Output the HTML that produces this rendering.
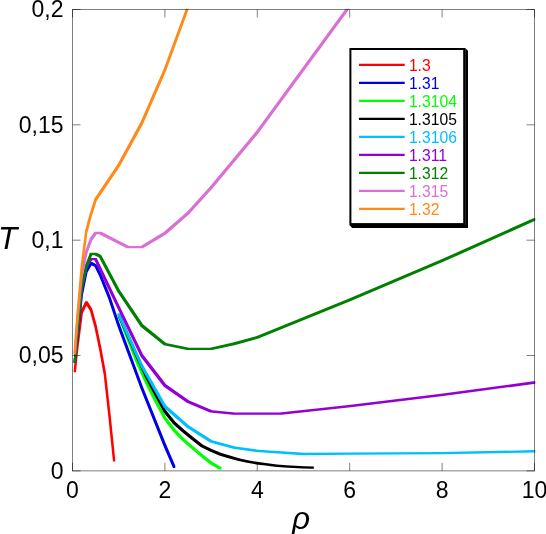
<!DOCTYPE html>
<html><head><meta charset="utf-8"><title>T vs rho</title>
<style>html,body{margin:0;padding:0;background:#fff;}body{width:546px;height:534px;overflow:hidden;}svg{display:block;}text{font-family:"Liberation Sans",sans-serif;}svg{will-change:transform;}</style></head><body>
<svg width="546" height="534" viewBox="0 0 546 534">
<rect x="0" y="0" width="546" height="534" fill="#fff"/>
<defs><clipPath id="c"><rect x="71.80" y="8.80" width="463.60" height="462.75"/></clipPath></defs>
<g clip-path="url(#c)" stroke="none">
<path fill="#ff0000" d="M73.66 370.05L75.97 347.44L78.27 347.44L78.27 349.74L75.96 372.35L73.66 372.35ZM75.97 347.44L80.59 311L82.89 311L82.89 313.3L78.27 349.74L75.97 349.74ZM80.59 311L85.21 301.31L87.51 301.31L87.51 303.61L82.89 313.3L80.59 313.3ZM85.21 301.31L87.51 301.31L92.13 308.46L92.13 310.76L89.83 310.76L85.21 303.61ZM89.83 308.46L92.13 308.46L96.75 325.3L96.75 327.6L94.45 327.6L89.83 310.76ZM94.45 325.3L96.75 325.3L101.37 347.44L101.37 349.74L99.07 349.74L94.45 327.6ZM99.07 347.44L101.37 347.44L105.99 372.82L105.99 375.12L103.69 375.12L99.07 349.74ZM103.69 372.82L105.99 372.82L110.61 414.34L110.61 416.64L108.31 416.64L103.69 375.12ZM108.31 414.34L110.61 414.34L115.23 459.32L115.23 461.62L112.93 461.62L108.31 416.64Z"/>
<path fill="#0000e4" d="M73.66 360.59L75.97 340.06L78.27 340.06L78.27 342.36L75.96 362.89L73.66 362.89ZM75.97 340.06L80.59 293.23L82.89 293.23L82.89 295.53L78.27 342.36L75.97 342.36ZM80.59 293.23L85.21 270.17L87.51 270.17L87.51 272.47L82.89 295.53L80.59 295.53ZM85.21 270.17L89.83 262.09L92.13 262.09L92.13 264.39L87.51 272.47L85.21 272.47ZM89.83 262.09L92.13 262.09L96.75 264.4L96.75 266.7L94.45 266.7L89.83 264.39ZM94.45 264.4L96.75 264.4L101.37 273.63L101.37 275.93L99.07 275.93L94.45 266.7ZM99.07 273.63L101.37 273.63L110.61 296.69L110.61 298.99L108.31 298.99L99.07 275.93ZM108.31 296.69L110.61 296.69L119.85 324.37L119.85 326.67L117.55 326.67L108.31 298.99ZM117.55 324.37L119.85 324.37L142.95 386.66L142.95 388.96L140.65 388.96L117.55 326.67ZM140.65 386.66L142.95 386.66L166.05 444.33L166.05 446.63L163.75 446.63L140.65 388.96ZM163.75 444.33L166.05 444.33L175.29 465.78L175.29 468.08L172.99 468.08L163.75 446.63Z"/>
<path fill="#00ff00" d="M117.55 313.99L119.85 313.99L129.09 337.98L129.09 340.28L126.79 340.28L117.55 316.29ZM126.79 337.98L129.09 337.98L138.33 361.28L138.33 363.58L136.03 363.58L126.79 340.28ZM136.03 361.28L138.33 361.28L147.57 381.35L147.57 383.65L145.27 383.65L136.03 363.58ZM145.27 381.35L147.57 381.35L156.81 400.04L156.81 402.34L154.51 402.34L145.27 383.65ZM154.51 400.04L156.81 400.04L166.05 416.88L166.05 419.18L163.75 419.18L154.51 402.34ZM163.75 416.88L166.05 416.88L175.29 429.1L175.29 431.4L172.99 431.4L163.75 419.18ZM172.99 429.1L175.29 429.1L184.53 438.79L184.53 441.09L182.23 441.09L172.99 431.4ZM182.23 438.79L184.53 438.79L193.77 446.63L193.77 448.93L191.47 448.93L182.23 441.09ZM191.47 446.63L193.77 446.63L203.01 454.48L203.01 456.78L200.71 456.78L191.47 448.93ZM200.71 454.48L203.01 454.48L212.25 461.86L212.25 464.16L209.95 464.16L200.71 456.78ZM209.95 461.86L212.25 461.86L221.49 467.16L221.49 469.46L219.19 469.46L209.95 464.16Z"/>
<path fill="#000000" d="M118.01 314.46L120.31 314.46L129.09 334.76L129.09 337.06L126.79 337.06L118.01 316.76ZM126.79 334.76L129.09 334.76L138.33 355.75L138.33 358.05L136.03 358.05L126.79 337.06ZM136.03 355.75L138.33 355.75L147.57 375.35L147.57 377.65L145.27 377.65L136.03 358.05ZM145.27 375.35L147.57 375.35L156.81 393.12L156.81 395.42L154.51 395.42L145.27 377.65ZM154.51 393.12L156.81 393.12L166.05 410.19L166.05 412.49L163.75 412.49L154.51 395.42ZM163.75 410.19L166.05 410.19L175.29 421.72L175.29 424.02L172.99 424.02L163.75 412.49ZM172.99 421.72L175.29 421.72L184.53 430.02L184.53 432.32L182.23 432.32L172.99 424.02ZM182.23 430.02L184.53 430.02L193.77 437.41L193.77 439.71L191.47 439.71L182.23 432.32ZM191.47 437.41L193.77 437.41L203.01 444.79L203.01 447.09L200.71 447.09L191.47 439.71ZM200.71 444.79L203.01 444.79L212.25 449.17L212.25 451.47L209.95 451.47L200.71 447.09ZM209.95 449.17L212.25 449.17L221.49 453.09L221.49 455.39L219.19 455.39L209.95 451.47ZM219.19 453.09L221.49 453.09L230.73 455.86L230.73 458.16L228.43 458.16L219.19 455.39ZM228.43 455.86L230.73 455.86L239.97 458.4L239.97 460.7L237.67 460.7L228.43 458.16ZM237.67 458.4L239.97 458.4L249.21 460.47L249.21 462.77L246.91 462.77L237.67 460.7ZM246.91 460.47L249.21 460.47L258.45 462.09L258.45 464.39L256.15 464.39L246.91 462.77ZM256.15 462.09L258.45 462.09L267.69 463.24L267.69 465.54L265.39 465.54L256.15 464.39ZM265.39 463.24L267.69 463.24L276.93 464.39L276.93 466.69L274.63 466.69L265.39 465.54ZM274.63 464.39L276.93 464.39L286.17 465.32L286.17 467.62L283.87 467.62L274.63 466.69ZM283.87 465.32L286.17 465.32L295.41 465.78L295.41 468.08L293.11 468.08L283.87 467.62ZM293.11 465.78L295.41 465.78L304.65 466.24L304.65 468.54L302.35 468.54L293.11 468.08ZM302.35 466.24L304.65 466.24L313.89 466.47L313.89 468.77L311.59 468.77L302.35 468.54Z"/>
<path fill="#00bfff" d="M117.55 313.3L119.85 313.3L142.95 364.74L142.95 367.04L140.65 367.04L117.55 315.6ZM140.65 364.74L142.95 364.74L166.05 405.34L166.05 407.64L163.75 407.64L140.65 367.04ZM163.75 405.34L166.05 405.34L189.15 425.41L189.15 427.71L186.85 427.71L163.75 407.64ZM186.85 425.41L189.15 425.41L212.25 440.17L212.25 442.47L209.95 442.47L186.85 427.71ZM209.95 440.17L212.25 440.17L235.35 446.4L235.35 448.7L233.05 448.7L209.95 442.47ZM233.05 446.4L235.35 446.4L258.45 449.63L258.45 451.93L256.15 451.93L233.05 448.7ZM256.15 449.63L258.45 449.63L304.65 452.86L304.65 455.16L302.35 455.16L256.15 451.93ZM302.35 452.86L348.55 452.4L350.85 452.4L350.85 454.7L304.65 455.16L302.35 455.16ZM348.55 452.4L440.95 452.05L443.25 452.05L443.25 454.35L350.85 454.7L348.55 454.7ZM440.95 452.05L533.35 450.09L535.65 450.09L535.65 452.39L443.25 454.35L440.95 454.35Z"/>
<path fill="#9400d3" d="M73.66 360.59L75.97 337.06L78.27 337.06L78.27 339.36L75.96 362.89L73.66 362.89ZM75.97 337.06L80.59 287.47L82.89 287.47L82.89 289.77L78.27 339.36L75.97 339.36ZM80.59 287.47L85.21 265.55L87.51 265.55L87.51 267.85L82.89 289.77L80.59 289.77ZM85.21 265.55L89.83 257.94L92.13 257.94L92.13 260.24L87.51 267.85L85.21 267.85ZM89.83 257.94L96.75 257.94L96.75 260.24L89.83 260.24ZM94.45 257.94L96.75 257.94L101.37 267.63L101.37 269.93L99.07 269.93L94.45 260.24ZM99.07 267.63L101.37 267.63L119.85 306.38L119.85 308.68L117.55 308.68L99.07 269.93ZM117.55 306.38L119.85 306.38L142.95 354.36L142.95 356.66L140.65 356.66L117.55 308.68ZM140.65 354.36L142.95 354.36L166.05 384.35L166.05 386.65L163.75 386.65L140.65 356.66ZM163.75 384.35L166.05 384.35L189.15 400.5L189.15 402.8L186.85 402.8L163.75 386.65ZM186.85 400.5L189.15 400.5L212.25 410.19L212.25 412.49L209.95 412.49L186.85 402.8ZM209.95 410.19L212.25 410.19L235.35 412.49L235.35 414.79L233.05 414.79L209.95 412.49ZM233.05 412.49L281.55 412.49L281.55 414.79L233.05 414.79ZM279.25 412.49L348.55 404.88L350.85 404.88L350.85 407.18L281.55 414.79L279.25 414.79ZM348.55 404.88L440.95 393.81L443.25 393.81L443.25 396.11L350.85 407.18L348.55 407.18ZM440.95 393.81L533.35 381.35L535.65 381.35L535.65 383.65L443.25 396.11L440.95 396.11Z"/>
<path fill="#008000" d="M73.66 360.59L75.97 335.91L78.27 335.91L78.27 338.21L75.96 362.89L73.66 362.89ZM75.97 335.91L80.59 286.31L82.89 286.31L82.89 288.61L78.27 338.21L75.97 338.21ZM80.59 286.31L85.21 264.86L87.51 264.86L87.51 267.16L82.89 288.61L80.59 288.61ZM85.21 264.86L89.83 252.87L92.13 252.87L92.13 255.17L87.51 267.16L85.21 267.16ZM89.83 252.87L96.75 252.87L96.75 255.17L89.83 255.17ZM94.45 252.87L96.75 252.87L101.37 255.17L101.37 257.47L99.07 257.47L94.45 255.17ZM99.07 255.17L101.37 255.17L119.85 290L119.85 292.3L117.55 292.3L99.07 257.47ZM117.55 290L119.85 290L142.95 324.37L142.95 326.67L140.65 326.67L117.55 292.3ZM140.65 324.37L142.95 324.37L166.05 343.06L166.05 345.36L163.75 345.36L140.65 326.67ZM163.75 343.06L166.05 343.06L189.15 347.67L189.15 349.97L186.85 349.97L163.75 345.36ZM186.85 347.67L212.25 347.67L212.25 349.97L186.85 349.97ZM209.95 347.67L233.05 342.6L235.35 342.6L235.35 344.9L212.25 349.97L209.95 349.97ZM233.05 342.6L256.15 336.14L258.45 336.14L258.45 338.44L235.35 344.9L233.05 344.9ZM256.15 336.14L348.55 298.77L350.85 298.77L350.85 301.07L258.45 338.44L256.15 338.44ZM348.55 298.77L440.95 259.56L443.25 259.56L443.25 261.86L350.85 301.07L348.55 301.07ZM440.95 259.56L533.35 218.26L535.65 218.26L535.65 220.56L443.25 261.86L440.95 261.86Z"/>
<path fill="#da70d6" d="M73.66 351.83L75.97 322.53L78.27 322.53L78.27 324.83L75.96 354.13L73.66 354.13ZM75.97 322.53L80.59 273.63L82.89 273.63L82.89 275.93L78.27 324.83L75.97 324.83ZM80.59 273.63L85.21 251.02L87.51 251.02L87.51 253.32L82.89 275.93L80.59 275.93ZM85.21 251.02L89.83 238.33L92.13 238.33L92.13 240.63L87.51 253.32L85.21 253.32ZM89.83 238.33L94.45 231.87L96.75 231.87L96.75 234.17L92.13 240.63L89.83 240.63ZM94.45 231.87L101.37 231.87L101.37 234.17L94.45 234.17ZM99.07 231.87L101.37 231.87L129.09 245.95L129.09 248.25L126.79 248.25L99.07 234.17ZM126.79 245.95L142.95 245.95L142.95 248.25L126.79 248.25ZM140.65 245.95L163.75 232.1L166.05 232.1L166.05 234.4L142.95 248.25L140.65 248.25ZM163.75 232.1L186.85 212.04L189.15 212.04L189.15 214.34L166.05 234.4L163.75 234.4ZM186.85 212.04L209.95 186.43L212.25 186.43L212.25 188.73L189.15 214.34L186.85 214.34ZM209.95 186.43L256.15 131.07L258.45 131.07L258.45 133.37L212.25 188.73L209.95 188.73ZM256.15 131.07L348.55 4.66L350.85 4.66L350.85 6.96L258.45 133.37L256.15 133.37Z"/>
<path fill="#ff8a18" d="M73.66 351.83L75.97 318.61L78.27 318.61L78.27 320.91L75.96 354.13L73.66 354.13ZM75.97 318.61L80.59 265.55L82.89 265.55L82.89 267.85L78.27 320.91L75.97 320.91ZM80.59 265.55L85.21 230.03L87.51 230.03L87.51 232.33L82.89 267.85L80.59 267.85ZM85.21 230.03L89.83 212.96L92.13 212.96L92.13 215.26L87.51 232.33L85.21 232.33ZM89.83 212.96L94.45 198.43L96.75 198.43L96.75 200.73L92.13 215.26L89.83 215.26ZM94.45 198.43L117.55 164.29L119.85 164.29L119.85 166.59L96.75 200.73L94.45 200.73ZM117.55 164.29L140.65 121.84L142.95 121.84L142.95 124.14L119.85 166.59L117.55 166.59ZM140.65 121.84L163.75 68.79L166.05 68.79L166.05 71.09L142.95 124.14L140.65 124.14ZM163.75 68.79L186.85 5.81L189.15 5.81L189.15 8.11L166.05 71.09L163.75 71.09Z"/>
</g>
<g stroke="#000" stroke-width="1.00" fill="none" stroke-opacity="0.5">
<rect x="72.50" y="9.50" width="462.00" height="461.35"/>
<path d="M72.50 470.85v-8.00M72.50 9.50v8.00M164.90 470.85v-8.00M164.90 9.50v8.00M257.30 470.85v-8.00M257.30 9.50v8.00M349.70 470.85v-8.00M349.70 9.50v8.00M442.10 470.85v-8.00M442.10 9.50v8.00M534.50 470.85v-8.00M534.50 9.50v8.00M72.50 470.85h8.00M534.50 470.85h-8.00M72.50 355.51h8.00M534.50 355.51h-8.00M72.50 240.18h8.00M534.50 240.18h-8.00M72.50 124.84h8.00M534.50 124.84h-8.00M72.50 9.50h8.00M534.50 9.50h-8.00"/>
</g>
<g font-size="23" fill="#000">
<text x="72.5" y="497.7" text-anchor="middle">0</text>
<text x="164.9" y="497.7" text-anchor="middle">2</text>
<text x="257.3" y="497.7" text-anchor="middle">4</text>
<text x="349.7" y="497.7" text-anchor="middle">6</text>
<text x="442.1" y="497.7" text-anchor="middle">8</text>
<text x="534.5" y="497.7" text-anchor="middle">10</text>
<text x="63.5" y="478.7" text-anchor="end">0</text>
<text x="63.5" y="363.3" text-anchor="end">0,05</text>
<text x="63.5" y="248.0" text-anchor="end">0,1</text>
<text x="63.5" y="132.6" text-anchor="end">0,15</text>
<text x="63.5" y="17.3" text-anchor="end">0,2</text>
</g>
<text x="-2" y="249" font-size="31.5" font-style="italic" fill="#000">T</text>
<text x="301" y="529" font-size="31.5" font-style="italic" text-anchor="middle" fill="#000">ρ</text>
<path d="M465.2 48.0L468.0 50.8L468.0 227.9L352.2 227.9L349.4 225.1L465.2 225.1Z" fill="#000"/>
<rect x="350.4" y="49.0" width="113.8" height="175.1" fill="#fff" stroke="#000" stroke-width="2"/>
<g font-size="15.7">
<path d="M359.0 64.9H404.7" stroke="#ff0000" stroke-width="2.4" fill="none"/>
<text x="408.9" y="70.9" fill="#ff0000">1.3</text>
<path d="M359.0 82.9H404.7" stroke="#0000e4" stroke-width="2.4" fill="none"/>
<text x="408.9" y="88.9" fill="#0000e4">1.31</text>
<path d="M359.0 100.9H404.7" stroke="#00ff00" stroke-width="2.4" fill="none"/>
<text x="408.9" y="106.9" fill="#00ff00">1.3104</text>
<path d="M359.0 118.9H404.7" stroke="#000000" stroke-width="2.4" fill="none"/>
<text x="408.9" y="124.9" fill="#000000">1.3105</text>
<path d="M359.0 136.9H404.7" stroke="#00bfff" stroke-width="2.4" fill="none"/>
<text x="408.9" y="142.9" fill="#00bfff">1.3106</text>
<path d="M359.0 154.9H404.7" stroke="#9400d3" stroke-width="2.4" fill="none"/>
<text x="408.9" y="160.9" fill="#9400d3">1.311</text>
<path d="M359.0 172.9H404.7" stroke="#008000" stroke-width="2.4" fill="none"/>
<text x="408.9" y="178.9" fill="#008000">1.312</text>
<path d="M359.0 190.9H404.7" stroke="#da70d6" stroke-width="2.4" fill="none"/>
<text x="408.9" y="196.9" fill="#da70d6">1.315</text>
<path d="M359.0 208.9H404.7" stroke="#ff8a18" stroke-width="2.4" fill="none"/>
<text x="408.9" y="214.9" fill="#ff8a18">1.32</text>
</g>
</svg></body></html>
